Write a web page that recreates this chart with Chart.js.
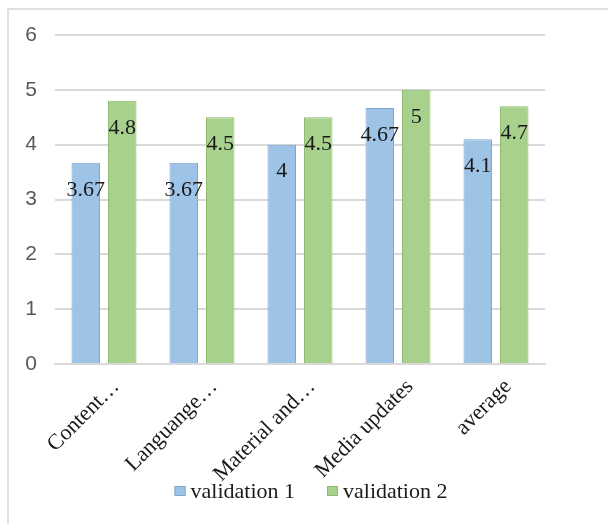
<!DOCTYPE html>
<html>
<head>
<meta charset="utf-8">
<script src="https://cdn.jsdelivr.net/npm/chart.js@4/dist/chart.umd.min.js"></script>
<style>
  html, body { margin: 0; padding: 0; background: #ffffff; }
  #wrap { position: relative; width: 608px; height: 524px; }
</style>
</head>
<body>
<div id="wrap"><canvas id="c" width="608" height="524"></canvas></div>
<script>
// Categories and scores for the two validation rounds
const categories = ['Content\u2026', 'Languange\u2026', 'Material and\u2026', 'Media updates', 'average'];
const validation1 = [3.67, 3.67, 4, 4.67, 4.1];
const validation2 = [4.8, 4.5, 4.5, 5, 4.7];
const yTicks = [0, 1, 2, 3, 4, 5, 6];

const serif = '"Liberation Serif", "Times New Roman", serif';
const sans = '"Liberation Sans", Arial, sans-serif';

// Light frame around the chart
const framePlugin = {
  id: 'frame',
  beforeDraw(chart) {
    const ctx = chart.ctx;
    ctx.save();
    ctx.fillStyle = '#ffffff';
    ctx.fillRect(0, 0, chart.width, chart.height);
    ctx.strokeStyle = '#dde1e6';
    ctx.lineWidth = 2;
    ctx.strokeRect(8, 9, chart.width + 20, chart.height + 20);
    ctx.restore();
  }
};

// Value labels drawn inside each bar, a little below its top
const valueLabels = {
  id: 'valueLabels',
  afterDatasetsDraw(chart) {
    const ctx = chart.ctx;
    ctx.save();
    ctx.font = '22px ' + serif;
    ctx.fillStyle = '#1a1a1a';
    ctx.textAlign = 'center';
    ctx.textBaseline = 'middle';
    chart.data.datasets.forEach((ds, i) => {
      const meta = chart.getDatasetMeta(i);
      meta.data.forEach((bar, j) => {
        ctx.fillText(String(ds.data[j]), bar.x, bar.y + 27);
      });
    });
    ctx.restore();
  }
};

// Series key along the bottom of the frame, built from the datasets
const bottomKey = {
  id: 'bottomKey',
  afterDraw(chart) {
    const ctx = chart.ctx;
    const box = 11, gap = 5, spacing = 32, centerX = 311, centerY = 491.5;
    ctx.save();
    ctx.font = '22px ' + serif;
    ctx.textBaseline = 'middle';
    ctx.textAlign = 'left';
    const items = chart.data.datasets.map(ds => ({
      text: ds.label, fill: ds.backgroundColor, stroke: ds.borderColor,
      w: ctx.measureText(ds.label).width
    }));
    const total = items.reduce((s, it) => s + box + gap + it.w, 0) + spacing * (items.length - 1);
    let x = centerX - total / 2;
    items.forEach(it => {
      ctx.fillStyle = it.fill;
      ctx.fillRect(x, centerY - 5.5, box, 10);
      ctx.strokeStyle = it.stroke;
      ctx.lineWidth = 1;
      ctx.strokeRect(x + 0.5, centerY - 5, box - 1, 9);
      ctx.fillStyle = '#1a1a1a';
      ctx.fillText(it.text, x + box + gap, centerY + 1);
      x += box + gap + it.w + spacing;
    });
    ctx.restore();
  }
};

new Chart(document.getElementById('c'), {
  type: 'bar',
  data: {
    labels: categories,
    datasets: [
      {
        label: 'validation 1',
        data: validation1,
        backgroundColor: '#9dc3e6',
        borderColor: '#7ea6cf',
        borderWidth: 1
      },
      {
        label: 'validation 2',
        data: validation2,
        backgroundColor: '#a9d18e',
        borderColor: '#8dbb6f',
        borderWidth: 1
      }
    ]
  },
  options: {
    responsive: false,
    animation: false,
    devicePixelRatio: 1,
    layout: { padding: { left: 8, right: 63, top: 35, bottom: 0 } },
    datasets: {
      bar: { categoryPercentage: 0.745, barPercentage: 0.78 }
    },
    scales: {
      x: {
        afterFit(axis) { axis.height = 160; },
        grid: { display: false, drawTicks: false },
        border: { display: true, color: '#d9d9d9', width: 2 },
        ticks: {
          minRotation: 45,
          maxRotation: 45,
          autoSkip: false,
          padding: 10,
          labelOffset: 12,
          color: '#1a1a1a',
          font: { family: serif, size: 22 }
        }
      },
      y: {
        min: 0,
        max: 6,
        afterBuildTicks(axis) { axis.ticks = yTicks.map(v => ({ value: v })); },
        afterFit(axis) { axis.width = 47; },
        grid: { color: '#d9d9d9', lineWidth: 2, drawTicks: false },
        border: { display: false },
        ticks: {
          padding: 18,
          color: '#595959',
          font: { family: sans, size: 21 }
        }
      }
    },
    plugins: {
      legend: { display: false },
      tooltip: { enabled: false }
    }
  },
  plugins: [framePlugin, valueLabels, bottomKey]
});
</script>
</body>
</html>
